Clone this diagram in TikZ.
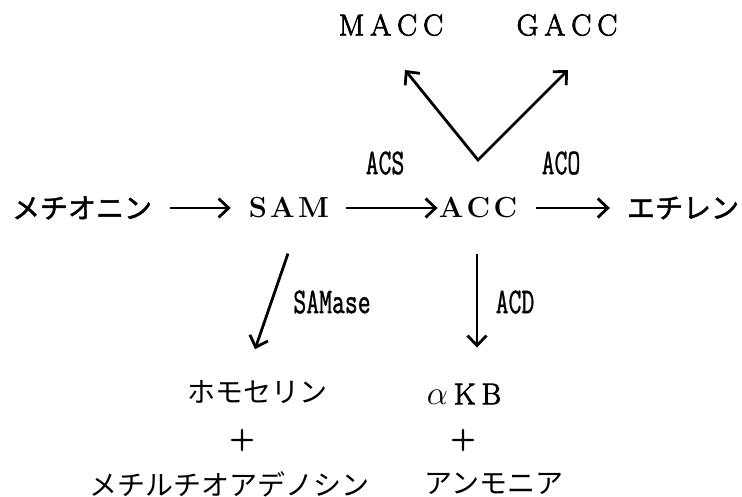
\documentclass[tikz,border=0pt]{standalone}
\usepackage{fontspec}
\usepackage{graphicx}
\newfontfamily\jp{Noto Sans CJK JP}
\newfontfamily\jpheavy{Noto Sans CJK JP}[FakeBold=1.6]
\newfontfamily\rmheavy{Latin Modern Roman}[FakeBold=2.6]
\newfontfamily\ttheavy{Latin Modern Mono}[FakeBold=1.2]
\usetikzlibrary{arrows.meta}

% tall, narrow typewriter labels for the enzymes
\newcommand\tallmono[1]{\scalebox{1}[1.45]{#1}}

\tikzset{
  barbhead/.tip={Straight Barb[length=10pt,width=19pt]},
  term/.style={inner sep=0pt, font=\fontsize{29}{32}\selectfont\bfseries},
  plain/.style={inner sep=0pt, font=\fontsize{30}{33}\selectfont\rmheavy},
  plus/.style={inner sep=0pt, font=\fontsize{34}{36}\selectfont\rmheavy},
  jterm/.style={inner sep=0pt, font=\fontsize{28}{30}\selectfont\jpheavy},
  jprod/.style={inner sep=0pt, font=\fontsize{28}{30}\selectfont\jp},
  enz/.style={inner sep=0pt, font=\fontsize{25}{28}\selectfont\ttheavy},
  arr/.style={line width=2.8pt, line join=miter, -barbhead},
}

\begin{document}
\begin{tikzpicture}[x=1pt,y=-1pt]
  \useasboundingbox (0,0) rectangle (742,497);

  % side products at the top
  \node[plain] (macc) at (391,25) {M\kern6pt A\kern6pt C\kern6pt C};
  \node[plain] (gacc) at (567,25) {G\kern6pt A\kern6pt C\kern6pt C};

  % main pathway
  \node[jterm] (meth) at (82,208) {メチオニン};
  \node[term]  (sam)  at (289,208) {S\kern3.3pt A\kern3.3pt M};
  \node[term]  (acc)  at (478,208) {A\kern3.3pt C\kern3.3pt C};
  \node[jterm] (eth)  at (683,208) {エチレン};

  % enzymes
  \node[enz] (acs)    at (385,163) {\tallmono{ACS}};
  \node[enz] (aco)    at (561,163) {\tallmono{ACO}};
  \node[enz] (samase) at (332,302) {\tallmono{SAMase}};
  \node[enz] (acd)    at (515,302) {\tallmono{ACD}};

  % breakdown products
  \node[jprod] (homo)  at (257,392) {ホモセリン};
  \node[plus]  (plusa) at (242,440) {+};
  \node[jprod] (mta)   at (229,484) {メチルチオアデノシン};
  \node[plain] (akb)   at (464,394) {\scalebox{1.35}{$\alpha$}\kern6pt K\kern6pt B};
  \node[plus]  (plusb) at (463,440) {+};
  \node[jprod] (amm)   at (494,484) {アンモニア};

  % branch points of the V above ACC
  \coordinate (vtx)  at (478,160);
  \coordinate (mtip) at (405,70);
  \coordinate (gtip) at (568,70);

  % connectors
  \draw[arr] ([xshift=18pt]meth.east) -- ([xshift=-18pt]sam.west);
  \draw[arr] ([xshift=17pt]sam.east) -- ([xshift=-1pt]acc.west);
  \draw[arr] ([xshift=19pt]acc.east) -- ([xshift=-17pt]eth.west);
  \draw[line width=2.8pt, line join=miter, barbhead-barbhead]
        (mtip) -- (vtx) -- (gtip);
  \draw[arr] ([xshift=-1pt,yshift=-35pt]sam.south) -- ([xshift=-2pt,yshift=31pt]homo.north);
  \draw[arr] ([xshift=-1pt,yshift=-35pt]acc.south) -- ([xshift=13pt,yshift=36pt]akb.north);
\end{tikzpicture}
\end{document}
